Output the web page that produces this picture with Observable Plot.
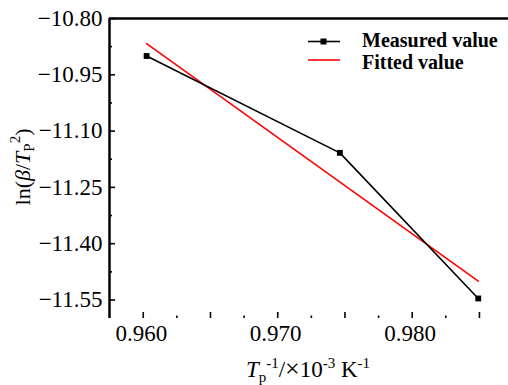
<!DOCTYPE html>
<html>
<head>
<meta charset="utf-8">
<script src="https://cdn.jsdelivr.net/npm/d3@7"></script>
<script src="https://cdn.jsdelivr.net/npm/@observablehq/plot@0.6"></script>
<style>
  html, body { margin: 0; padding: 0; background: #fff; }
  svg { display: block; }
  svg text, svg tspan { font-family: "Liberation Serif", "Times New Roman", serif !important; }
</style>
</head>
<body>
<div id="chart"></div>
<script>
// Data
const measuredX = [0.96025, 0.97462, 0.98491];
const measuredY = [-10.900, -11.158, -11.546];
const fittedX = [0.96025, 0.98491];
const fittedY = [-10.867, -11.500];

const yMajor = [-10.80, -10.95, -11.10, -11.25, -11.40, -11.55];
const yMinor = [-10.875, -11.025, -11.175, -11.325, -11.475];
const xMajor = [0.960, 0.965, 0.970, 0.975, 0.980, 0.985];
const xMinor = [0.9625, 0.9675, 0.9725, 0.9775, 0.9825];
const xLabels = [0.960, 0.970, 0.980];

const measured = measuredX.map((x, i) => ({x, y: measuredY[i]}));
const fitted = fittedX.map((x, i) => ({x, y: fittedY[i]}));

const xDomain = [0.95749, 0.98716];
const yDomain = [-11.5994, -10.80];

const chart = Plot.plot({
  width: 508,
  height: 385,
  marginLeft: 109,
  marginRight: 0,
  marginTop: 18,
  marginBottom: 67,
  style: {fontFamily: "Liberation Serif, serif", fontSize: "23px", color: "#000", background: "#fff"},
  x: {domain: xDomain, label: null},
  y: {domain: yDomain, label: null},
  marks: [
    // y axis labels and inward ticks
    Plot.axisY(yMajor, {tickSize: 0, tickPadding: 7, tickFormat: d3.format(".2f"), fontSize: 23, label: null}),
    Plot.axisY(yMajor, {tickSize: 6, dx: 6, text: null, strokeWidth: 1.6, label: null}),
    Plot.axisY(yMinor, {tickSize: 3, dx: 3, text: null, strokeWidth: 1.6, label: null}),
    // x axis labels and inward ticks
    Plot.axisX(xLabels, {tickSize: 0, tickPadding: 6, tickFormat: d3.format(".3f"), fontSize: 23, dx: -2, label: null}),
    Plot.axisX(xMajor, {tickSize: 6, dy: -6, text: null, strokeWidth: 1.6, label: null}),
    Plot.axisX(xMinor, {tickSize: 2.5, dy: -2.5, text: null, strokeWidth: 1.6, label: null}),
    // frame lines (left and top)
    Plot.ruleX([xDomain[0]], {stroke: "#000", strokeWidth: 2.5}),
    Plot.ruleY([yDomain[1]], {stroke: "#000", strokeWidth: 2.5}),
    // data
    Plot.line(fitted, {x: "x", y: "y", stroke: "#ff0000", strokeWidth: 1.6}),
    Plot.line(measured, {x: "x", y: "y", stroke: "#000", strokeWidth: 1.6}),
    Plot.dot(measured, {x: "x", y: "y", symbol: "square", r: 3.3, fill: "#000", stroke: "none"})
  ]
});

document.getElementById("chart").appendChild(chart);

const svg = d3.select(chart);

// Y axis title
const yt = svg.append("text")
  .attr("transform", "translate(30,167) rotate(-90)")
  .attr("text-anchor", "middle")
  .attr("font-size", 22)
  .attr("fill", "#000");
yt.append("tspan").text("ln(");
yt.append("tspan").attr("font-style", "italic").text("β");
yt.append("tspan").text("/");
yt.append("tspan").attr("font-style", "italic").text("T");
yt.append("tspan").attr("font-size", 15).attr("dy", 4).text("P");
yt.append("tspan").attr("font-size", 15).attr("dy", -14).text("2");
yt.append("tspan").attr("dy", 10).text(")");

// X axis title
const xt = svg.append("text")
  .attr("x", 308)
  .attr("y", 377)
  .attr("text-anchor", "middle")
  .attr("font-size", 23)
  .attr("fill", "#000");
xt.append("tspan").attr("font-style", "italic").text("T");
xt.append("tspan").attr("font-size", 15).attr("dy", 5).text("p");
xt.append("tspan").attr("font-size", 15).attr("dy", -14).text("-1");
xt.append("tspan").attr("dy", 9).text("/");
xt.append("tspan").attr("font-size", 26).text("×");
xt.append("tspan").text("10");
xt.append("tspan").attr("font-size", 15).attr("dy", -9).text("-3");
xt.append("tspan").attr("dy", 9).text(" K");
xt.append("tspan").attr("font-size", 15).attr("dy", -9).text("-1");

// Legend
const lg = svg.append("g").attr("font-weight", "bold").attr("font-size", 20).attr("fill", "#000").attr("text-anchor", "start");
lg.append("line").attr("x1", 308).attr("x2", 340).attr("y1", 41.5).attr("y2", 41.5).attr("stroke", "#000").attr("stroke-width", 1.6);
lg.append("rect").attr("x", 320.5).attr("y", 38.5).attr("width", 6).attr("height", 6).attr("fill", "#000");
lg.append("text").attr("x", 362).attr("y", 47).text("Measured value");
lg.append("line").attr("x1", 308).attr("x2", 340).attr("y1", 60).attr("y2", 60).attr("stroke", "#ff0000").attr("stroke-width", 1.6);
lg.append("text").attr("x", 362).attr("y", 69).text("Fitted value");
</script>
</body>
</html>
